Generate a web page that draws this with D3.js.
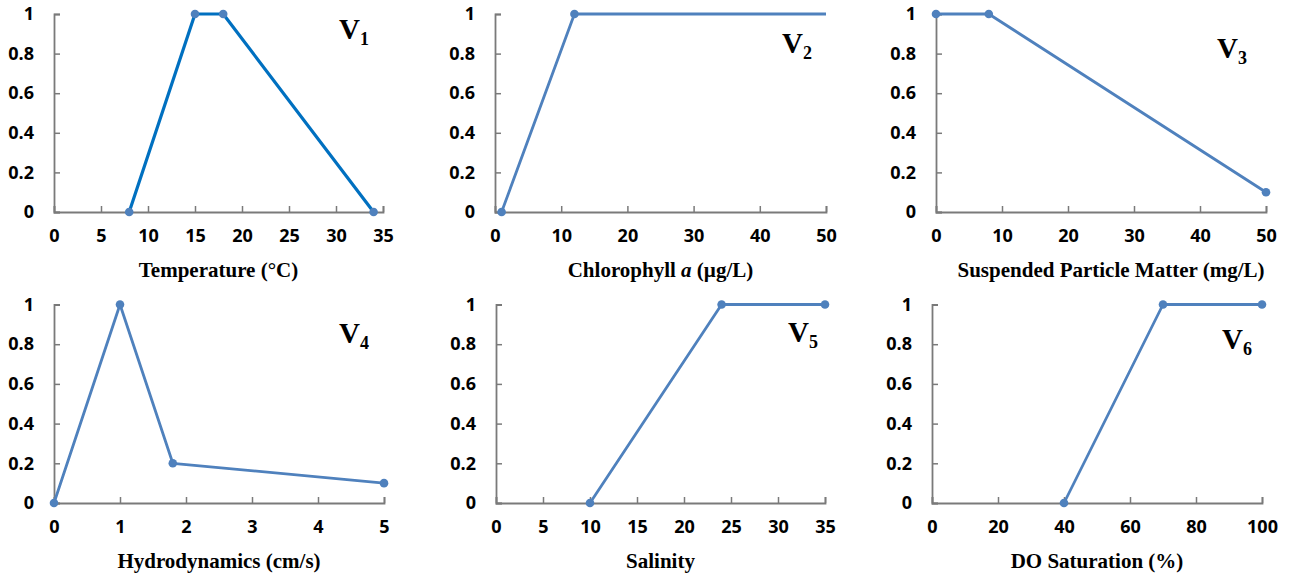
<!DOCTYPE html>
<html>
<head>
<meta charset="utf-8">
<script src="https://cdn.jsdelivr.net/npm/d3@7"></script>
<style>
  body { margin: 0; background: #fff; }
  .ttl { font-family: "Liberation Serif", "Times New Roman", serif; font-weight: 700; font-size: 21px; fill: #000; }
  .vlab { font-family: "Liberation Serif", "Times New Roman", serif; font-weight: 700; fill: #000; }
</style>
</head>
<body>
<div id="chart"></div>
<script>
// membership curves, one per variable
const tempX = [8, 15, 18, 34],   tempY = [0, 1, 1, 0];
const chlX  = [1, 12, 100],      chlY  = [0, 1, 1];
const spmX  = [0, 8, 50],        spmY  = [1, 1, 0.1];
const hydX  = [0, 1, 1.8, 5],    hydY  = [0, 1, 0.2, 0.1];
const salX  = [10, 24, 35],      salY  = [0, 1, 1];
const doX   = [40, 70, 100],     doY   = [0, 1, 1];

const yTicks = [0, 0.2, 0.4, 0.6, 0.8, 1];
const tempTicks = [0, 5, 10, 15, 20, 25, 30, 35];
const chlTicks  = [0, 10, 20, 30, 40, 50];
const spmTicks  = [0, 10, 20, 30, 40, 50];
const hydTicks  = [0, 1, 2, 3, 4, 5];
const salTicks  = [0, 5, 10, 15, 20, 25, 30, 35];
const doTicks   = [0, 20, 40, 60, 80, 100];

const W = 1291, H = 574;
const svg = d3.select("#chart").append("svg").attr("width", W).attr("height", H);

const panels = [
  { x: tempX, y: tempY, ticks: tempTicks, title: "Temperature (°C)", sub: "1",
    left: 54, right: 383, top: 14, bottom: 212, line: "#0070C0", lw: 3.2, vx: 339, vy: 39 },
  { x: chlX, y: chlY, ticks: chlTicks, title: "Chlorophyll", italic: "a", rest: " (µg/L)", sub: "2",
    left: 495, right: 826, top: 14, bottom: 212, line: "#4F81BD", lw: 2.8, vx: 782, vy: 53 },
  { x: spmX, y: spmY, ticks: spmTicks, title: "Suspended Particle Matter (mg/L)", sub: "3",
    left: 936, right: 1266, top: 14, bottom: 212, line: "#4F81BD", lw: 2.8, vx: 1217, vy: 58 },
  { x: hydX, y: hydY, ticks: hydTicks, title: "Hydrodynamics (cm/s)", sub: "4",
    left: 54, right: 384, top: 304.5, bottom: 503, line: "#4F81BD", lw: 2.8, vx: 339, vy: 343 },
  { x: salX, y: salY, ticks: salTicks, title: "Salinity", sub: "5",
    left: 496, right: 825, top: 304.5, bottom: 503, line: "#4F81BD", lw: 2.8, vx: 788, vy: 342 },
  { x: doX, y: doY, ticks: doTicks, title: "DO Saturation (%)", sub: "6",
    left: 932, right: 1262, top: 304.5, bottom: 503, line: "#4F81BD", lw: 2.8, vx: 1222, vy: 349 }
];

panels.forEach(function (p, i) {
  const xs = d3.scaleLinear().domain(d3.extent(p.ticks)).range([p.left, p.right]);
  const ys = d3.scaleLinear().domain([0, 1]).range([p.bottom, p.top]);
  const g = svg.append("g");

  // axes, ticks drawn inward like the excel original
  const xa = g.append("g").attr("transform", `translate(0,${p.bottom})`)
    .call(d3.axisBottom(xs).tickValues(p.ticks).tickSize(-6).tickPadding(20).tickFormat(d3.format("d")));
  const ya = g.append("g").attr("transform", `translate(${p.left},0)`)
    .call(d3.axisLeft(ys).tickValues(yTicks).tickSize(-6).tickPadding(20).tickFormat(d => d === 0 || d === 1 ? d : d.toFixed(1)));
  [xa, ya].forEach(a => {
    a.attr("font-family", "'Open Sans', 'Noto Sans', sans-serif")
      .attr("font-size", 18).attr("font-weight", 700);
    a.selectAll(".tick text").attr("fill", "#000");
    a.select(".domain").attr("stroke", "#7a7a7a").attr("stroke-width", 1.8);
    a.selectAll(".tick line").attr("stroke", "#7a7a7a").attr("stroke-width", 1.5);
  });
  xa.selectAll(".tick text").attr("dy", "0.55em");

  // clip the curve at the axis end (chlorophyll runs past 50)
  const cid = "clip" + i;
  svg.append("clipPath").attr("id", cid).append("rect")
    .attr("x", p.left - 6).attr("y", p.top - 8)
    .attr("width", p.right - p.left + 6).attr("height", p.bottom - p.top + 16);

  const xmax = d3.max(p.ticks);
  const pts = p.x.map((v, k) => [v, p.y[k]]);
  g.append("path").datum(pts)
    .attr("clip-path", `url(#${cid})`)
    .attr("fill", "none").attr("stroke", p.line).attr("stroke-width", p.lw)
    .attr("stroke-linejoin", "round")
    .attr("d", d3.line().x(d => xs(d[0])).y(d => ys(d[1])));
  g.selectAll("circle").data(pts.filter(d => d[0] <= xmax)).join("circle")
    .attr("cx", d => xs(d[0])).attr("cy", d => ys(d[1])).attr("r", 4.3)
    .attr("fill", "#4F81BD");

  // axis title
  const t = g.append("text").attr("class", "ttl")
    .attr("x", (p.left + p.right) / 2 + (i === 2 ? 10 : 0))
    .attr("y", p.bottom + 65).attr("text-anchor", "middle").text(p.title);
  if (p.italic) {
    t.append("tspan").attr("font-style", "italic").text(" " + p.italic);
    t.append("tspan").text(p.rest);
  }

  // variable label
  const v = g.append("text").attr("class", "vlab").attr("x", p.vx).attr("y", p.vy)
    .attr("font-size", 29).text("V");
  v.append("tspan").attr("font-size", 18).attr("dy", 6).text(p.sub);
});
</script>
</body>
</html>
